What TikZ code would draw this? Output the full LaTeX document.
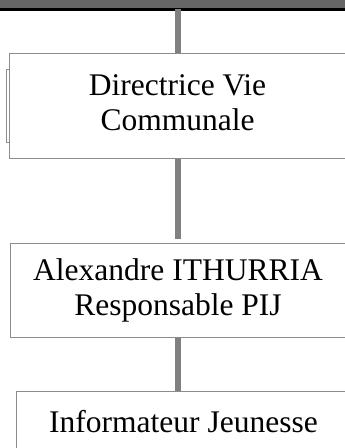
\documentclass[tikz,border=0pt]{standalone}
\usepackage{fontspec}
\setmainfont{Liberation Serif}
\begin{document}
\begin{tikzpicture}[x=1pt,y=-1pt,
  boxline/.style={draw=black!45,line width=1pt},
  orgbox/.style={boxline,fill=white,anchor=north west,inner sep=0pt,
    font=\fontsize{31.5}{35}\selectfont},
  conn/.style={draw=black!50,line width=5.5pt},
]
\useasboundingbox (0,0) rectangle (345,448);
% top band
\node[fill=black!60,draw=none,anchor=north west,minimum width=345pt,minimum height=8pt,inner sep=0pt] (band) at (0,0) {};
\node[fill=black,draw=none,anchor=north west,minimum width=345pt,minimum height=3pt,inner sep=0pt] (bar) at (0,8) {};
% boxes
\node[boxline,anchor=north west,minimum width=3.5pt,minimum height=73pt,inner sep=0pt] (tab) at (5.5,69) {};
\node[orgbox,minimum width=336pt,minimum height=105pt] (b1) at (9,53)
  {\raisebox{3pt}{\begin{tabular}{@{}c@{}}Directrice Vie\\Communale\end{tabular}}};
\node[orgbox,minimum width=336pt,minimum height=94pt] (b2) at (9.5,243)
  {\raisebox{-5pt}{\begin{tabular}{@{}c@{}}Alexandre ITHURRIA\\Responsable PIJ\end{tabular}}};
\node[orgbox,minimum width=334pt,minimum height=61pt] (b3) at (16,391) {Informateur Jeunesse};
% connectors
\coordinate (c0) at (178,9);
\coordinate (c1t) at (178,158.5);
\coordinate (c1b) at (178,239);
\coordinate (c2t) at (178,337.5);
\coordinate (c2b) at (178,390.5);
\draw[conn] (c0) -- (c0 |- b1.north);
\draw[conn] (c1t) -- (c1b);
\draw[conn] (c2t) -- (c2b);
\end{tikzpicture}
\end{document}
